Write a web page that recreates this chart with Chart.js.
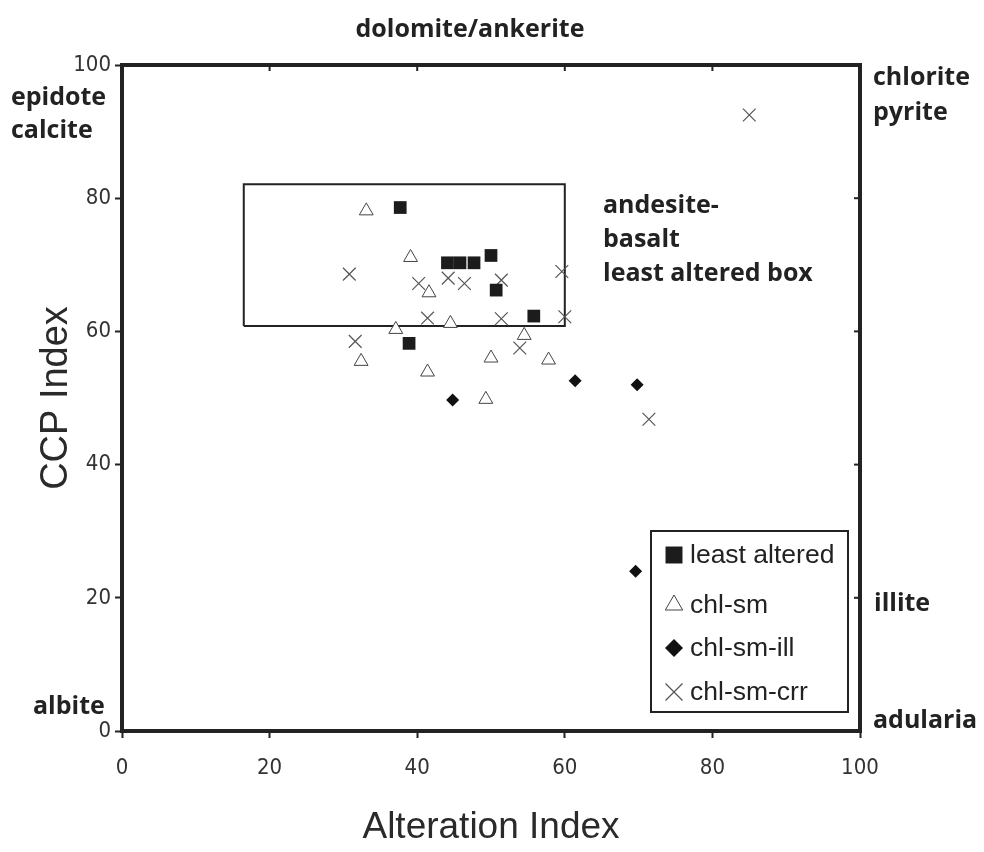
<!DOCTYPE html>
<html>
<head>
<meta charset="utf-8">
<script src="https://cdn.jsdelivr.net/npm/chart.js"></script>
<style>
  html, body { margin: 0; padding: 0; background: #fff; }
  #wrap { width: 984px; height: 852px; }
</style>
</head>
<body>
<div id="wrap"><canvas id="scatterChart" width="984" height="852"></canvas></div>
<script>
// data: [Alteration Index, CCP Index]
var leastAltered = [
  [37.7, 78.6], [44.1, 70.3], [45.8, 70.3], [47.7, 70.3],
  [50.0, 71.4], [50.7, 66.2], [55.8, 62.3], [38.9, 58.2]
];
var chlSm = [
  [33.1, 78.1], [39.1, 71.1], [41.6, 65.8], [44.5, 61.2], [37.1, 60.3], [54.5, 59.4],
  [32.4, 55.5], [50.0, 56.0], [57.8, 55.7], [41.4, 53.9], [49.3, 49.8]
];
var chlSmIll = [
  [44.8, 49.7], [61.4, 52.6], [69.8, 52.0], [69.6, 24.0]
];
var chlSmCrr = [
  [30.8, 68.6], [40.2, 67.2], [44.2, 68.0], [46.4, 67.2], [51.4, 67.7], [59.6, 69.0],
  [41.4, 62.0], [51.4, 61.9], [60.0, 62.2], [31.6, 58.5], [53.9, 57.5],
  [85.0, 92.5], [71.4, 46.8]
];
// andesite-basalt least altered box (x range, y range)
var boxX = [16.5, 60.0];
var boxY = [60.8, 82.1];
var tickValues = [0, 20, 40, 60, 80, 100];
var seriesNames = ["least altered", "chl-sm", "chl-sm-ill", "chl-sm-crr"];

function toPoints(arr) {
  return arr.map(function (p) { return { x: p[0], y: p[1] }; });
}

var boxPoints = [
  { x: boxX[0], y: boxY[0] }, { x: boxX[1], y: boxY[0] },
  { x: boxX[1], y: boxY[1] }, { x: boxX[0], y: boxY[1] },
  { x: boxX[0], y: boxY[0] }
];

var markerStyles = [
  { pointStyle: 'rect', radius: 9, legendRadius: 12, backgroundColor: '#1c1c1c', borderColor: '#1c1c1c', borderWidth: 0 },
  { pointStyle: 'triangle', radius: 8, legendRadius: 10, backgroundColor: '#ffffff', borderColor: '#444', borderWidth: 1 },
  { pointStyle: 'rectRot', radius: 6.5, legendRadius: 9, backgroundColor: '#111', borderColor: '#111', borderWidth: 0 },
  { pointStyle: 'crossRot', radius: 9, legendRadius: 12, backgroundColor: '#555', borderColor: '#555', borderWidth: 1.2 }
];

var seriesData = [leastAltered, chlSm, chlSmIll, chlSmCrr];
var datasets = seriesData.map(function (d, i) {
  var m = markerStyles[i];
  return {
    label: seriesNames[i],
    data: toPoints(d),
    pointStyle: m.pointStyle,
    pointRadius: m.radius,
    backgroundColor: m.backgroundColor,
    borderColor: m.borderColor,
    pointBorderWidth: m.borderWidth,
    borderWidth: m.borderWidth
  };
});
datasets.push({
  type: 'line',
  label: 'box',
  data: boxPoints,
  borderColor: '#222',
  borderWidth: 2,
  pointRadius: 0,
  fill: false,
  tension: 0
});

var boldFont = "bold 25px 'Open Sans'";
var labels = [
  { text: "dolomite/ankerite", x: 470, y: 30, align: 'center' },
  { text: "epidote", x: 11, y: 98, align: 'left' },
  { text: "calcite", x: 11, y: 131, align: 'left' },
  { text: "chlorite", x: 873, y: 78, align: 'left' },
  { text: "pyrite", x: 873, y: 113, align: 'left' },
  { text: "andesite-", x: 603, y: 206, align: 'left' },
  { text: "basalt", x: 603, y: 240, align: 'left' },
  { text: "least altered box", x: 603, y: 274, align: 'left' },
  { text: "illite", x: 874, y: 604, align: 'left' },
  { text: "albite", x: 33, y: 707, align: 'left' },
  { text: "adularia", x: 873, y: 721, align: 'left' }
];

var annotations = {
  id: 'annotations',
  afterDraw: function (chart) {
    var ctx = chart.ctx;
    var a = chart.chartArea;
    var xs = chart.scales.x, ys = chart.scales.y;
    ctx.save();
    // top and right frame
    ctx.strokeStyle = '#222';
    ctx.lineWidth = 4;
    ctx.beginPath();
    ctx.moveTo(a.left - 2, a.top);
    ctx.lineTo(a.right, a.top);
    ctx.lineTo(a.right, a.bottom + 2);
    ctx.stroke();
    // inward ticks on top and right
    ctx.lineWidth = 2;
    tickValues.forEach(function (v) {
      if (v === 0 || v === 100) return;
      var px = xs.getPixelForValue(v);
      ctx.beginPath(); ctx.moveTo(px, a.top); ctx.lineTo(px, a.top + 6); ctx.stroke();
      var py = ys.getPixelForValue(v);
      ctx.beginPath(); ctx.moveTo(a.right, py); ctx.lineTo(a.right - 6, py); ctx.stroke();
    });
    // mineral labels
    ctx.fillStyle = '#222';
    ctx.font = boldFont;
    ctx.textBaseline = 'middle';
    labels.forEach(function (l) {
      ctx.textAlign = l.align;
      ctx.fillText(l.text, l.x, l.y);
    });
    // legend box
    ctx.lineWidth = 2;
    ctx.strokeStyle = '#222';
    ctx.fillStyle = '#fff';
    ctx.fillRect(651, 531, 197, 181);
    ctx.strokeRect(651, 531, 197, 181);
    var rowY = [555, 605, 648, 692];
    ctx.font = "26.5px 'Liberation Sans'";
    ctx.textAlign = 'left';
    seriesNames.forEach(function (name, i) {
      var m = markerStyles[i];
      ctx.fillStyle = m.backgroundColor;
      ctx.strokeStyle = m.borderColor;
      ctx.lineWidth = m.borderWidth || 1;
      Chart.helpers.drawPoint(ctx, {
        pointStyle: m.pointStyle,
        radius: m.legendRadius,
        rotation: 0,
        borderWidth: m.borderWidth
      }, 674, rowY[i]);
      ctx.fillStyle = '#222';
      ctx.fillText(name, 690, rowY[i] + 1);
    });
    ctx.restore();
  }
};

var tickFont = { family: "'DejaVu Sans Condensed', sans-serif", size: 22 };

var scatterChart = new Chart(document.getElementById("scatterChart"), {
  type: 'scatter',
  data: { datasets: datasets },
  options: {
    responsive: false,
    animation: false,
    layout: { padding: { top: 65, right: 124, left: 0, bottom: 0 } },
    plugins: {
      legend: { display: false },
      tooltip: { enabled: false }
    },
    scales: {
      x: {
        min: 0, max: 100,
        ticks: { stepSize: 20, color: '#333', font: tickFont, padding: 17 },
        grid: { drawOnChartArea: false, tickLength: 7, tickWidth: 2, tickColor: '#222' },
        border: { display: true, width: 4, color: '#222' },
        title: { display: true, text: 'Alteration Index', color: '#2a2a2a',
                 font: { family: "'Liberation Sans', sans-serif", size: 37 },
                 padding: { top: 0, bottom: 2 } },
        afterFit: function (s) { s.height = 852 - 731; }
      },
      y: {
        min: 0, max: 100,
        ticks: { stepSize: 20, color: '#333', font: tickFont, padding: 4 },
        grid: { drawOnChartArea: false, tickLength: 7, tickWidth: 2, tickColor: '#222' },
        border: { display: true, width: 4, color: '#222' },
        title: { display: true, text: 'CCP Index', color: '#2a2a2a',
                 font: { family: "'Liberation Sans', sans-serif", size: 38 },
                 padding: { top: 34, bottom: 0 } },
        afterFit: function (s) { s.width = 122; }
      }
    }
  },
  plugins: [annotations]
});
</script>
</body>
</html>
